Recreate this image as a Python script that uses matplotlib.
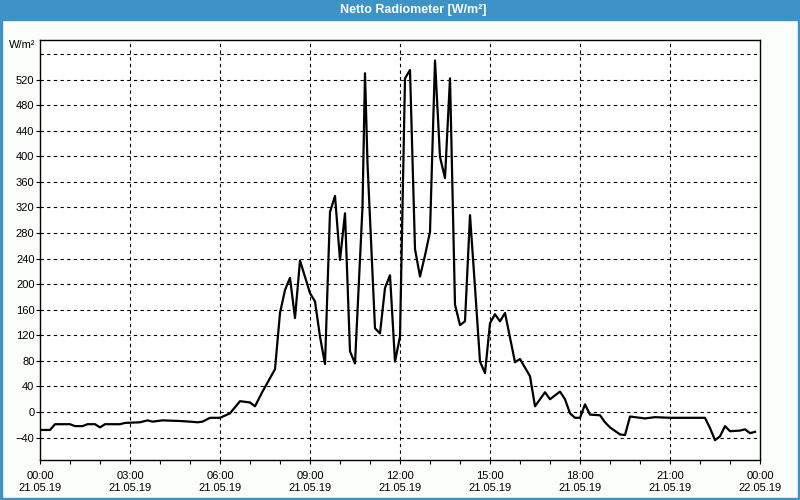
import matplotlib
matplotlib.use("Agg")
import matplotlib.pyplot as plt
import matplotlib.dates as mdates
import pandas as pd

# Messzeiten (21.05.19) und Werte in W/m²
times = ["00:00", "00:20", "00:30", "01:00", "01:10", "01:25", "01:35", "01:50",
         "02:00", "02:10", "02:40", "02:50", "03:20", "03:35", "03:45", "04:05",
         "04:40", "05:00", "05:15", "05:25", "05:40", "06:00", "06:20", "06:40",
         "07:00", "07:10", "07:25", "07:50", "08:00", "08:10", "08:20", "08:30",
         "08:40", "09:00", "09:10", "09:20", "09:30", "09:40", "09:50", "10:00",
         "10:10", "10:20", "10:30", "10:45", "10:50", "10:55", "11:10", "11:20",
         "11:30", "11:40", "11:50", "12:00", "12:10", "12:20", "12:30", "12:40",
         "12:50", "13:00", "13:10", "13:20", "13:30", "13:40", "13:50", "14:00",
         "14:10", "14:20", "14:30", "14:40", "14:50", "15:00", "15:10", "15:20",
         "15:30", "15:50", "16:00", "16:20", "16:30", "16:50", "17:00", "17:20",
         "17:30", "17:40", "17:50", "18:00", "18:10", "18:20", "18:40", "18:50",
         "19:00", "19:20", "19:30", "19:40", "19:50", "20:10", "20:30", "21:00",
         "22:10", "22:20", "22:30", "22:40", "22:50", "23:00", "23:20", "23:30",
         "23:40", "23:50"]
values = [-28, -28, -19, -19, -22, -22, -19, -19,
          -24, -19, -19, -17, -16, -13, -15, -13,
          -14, -15, -16, -15, -9, -9, -2, 17,
          15, 9, 32, 67, 155, 191, 210, 147,
          237, 186, 173, 118, 75, 313, 338, 238,
          311, 95, 76, 321, 530, 389, 131, 123,
          194, 214, 79, 118, 522, 535, 255, 212,
          245, 282, 550, 399, 366, 522, 168, 136,
          142, 308, 195, 79, 61, 139, 153, 142,
          155, 78, 83, 56, 9, 31, 20, 32,
          20, -2, -9, -9, 12, -4, -5, -16,
          -24, -35, -36, -7, -8, -10, -8, -9,
          -9, -25, -44, -38, -22, -30, -29, -27,
          -33, -31]
y_ticks = list(range(-40, 521, 40))

x = pd.to_datetime(["2019-05-21 " + t for t in times])

plt.rcParams['font.family'] = ['Liberation Sans', 'DejaVu Sans']

fig = plt.figure(figsize=(8, 5), dpi=100, facecolor="#fbfdfb")
blue = "#3d92c6"

# Titelleiste + Rahmen
fig.patches.append(plt.Rectangle((0, 0.96), 1, 0.04, transform=fig.transFigure,
                                 color=blue, zorder=0))
for xy, w, h in [((0, 0), 0.003, 1), ((0.997, 0), 0.003, 1), ((0, 0), 1, 0.004)]:
    fig.patches.append(plt.Rectangle(xy, w, h, transform=fig.transFigure,
                                     color=blue, zorder=0))
fig.text(0.517, 0.979, "Netto Radiometer [W/m²]", color="white", fontsize=9,
         fontweight="bold", ha="center", va="center")

ax = fig.add_axes([0.05, 0.08, 0.9, 0.84])
ax.set_facecolor("white")
ax.plot(x, values, color="black", linewidth=1.6)

ax.set_xlim(pd.Timestamp("2019-05-21 00:00"), pd.Timestamp("2019-05-22 00:00"))
ax.set_ylim(-75, 582)

ax.xaxis.set_major_locator(mdates.HourLocator(interval=3))
ax.xaxis.set_minor_locator(mdates.HourLocator(interval=1))
ax.xaxis.set_major_formatter(mdates.DateFormatter("%H:%M\n%d.%m.%y"))
ax.set_yticks(y_ticks)

ax.tick_params(axis="both", which="both", labelsize=8, length=3, width=0.8)
ax.tick_params(axis="y", pad=1)
ax.tick_params(axis="x", pad=5)
for lab in ax.get_xticklabels():
    lab.set_linespacing(1.2)

# Gitter
for yv in y_ticks + [560]:
    ax.axhline(yv, color="black", linestyle=(0, (3, 3)), linewidth=0.8, zorder=1)
for h in range(3, 22, 3):
    ax.axvline(pd.Timestamp("2019-05-21") + pd.Timedelta(hours=h), color="black",
               linestyle=(0, (3, 3)), linewidth=0.8, zorder=1)

for s in ax.spines.values():
    s.set_linewidth(1)

fig.text(0.011, 0.909, "W/m²", fontsize=8, ha="left", va="center")

fig.savefig("out.png", dpi=100, facecolor=fig.get_facecolor())
